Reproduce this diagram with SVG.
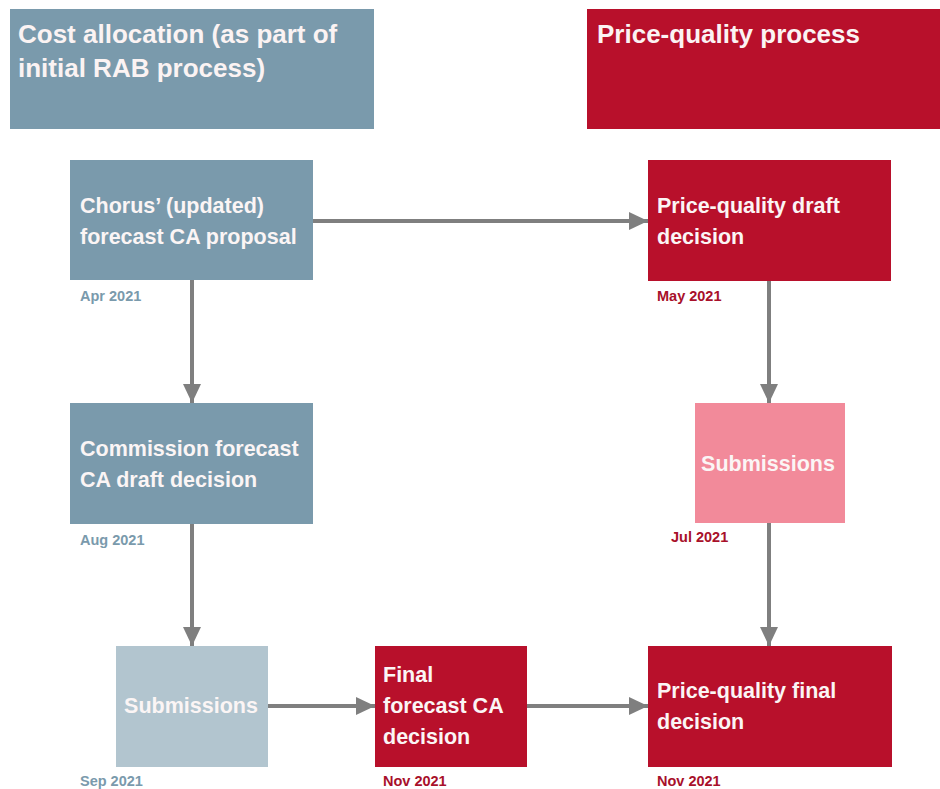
<svg xmlns="http://www.w3.org/2000/svg" width="940" height="789" viewBox="0 0 940 789">
  <defs>
    <marker id="arrow" markerUnits="userSpaceOnUse" markerWidth="20" markerHeight="20" refX="19" refY="9" orient="auto">
      <path d="M0,0 L19,9 L0,18 Z" fill="#7f7f7f"/>
    </marker>
    <style>
      .hdr { font-family: "Liberation Sans", Arial, sans-serif; font-weight: bold; font-size: 26px; fill: #fbf3f3; }
      .lbl { font-family: "Liberation Sans", Arial, sans-serif; font-weight: bold; font-size: 21.5px; fill: #fbf5f5; }
      .date { font-family: "Liberation Sans", Arial, sans-serif; font-weight: bold; font-size: 14.5px; }
      .d-blue { fill: #7a9aac; }
      .d-red { fill: #a8102a; }
      .blue { fill: #7a9aac; }
      .red { fill: #b8102b; }
      .pink { fill: #f28a9a; }
      .pale { fill: #b2c5cf; }
      .conn { stroke: #7f7f7f; stroke-width: 4; fill: none; marker-end: url(#arrow); }
    </style>
  </defs>

  <rect width="940" height="789" fill="#ffffff"/>

  <!-- column headers -->
  <g id="header-cost-allocation">
    <rect class="blue" x="10" y="9" width="364" height="120"/>
    <text class="hdr" x="18" y="43">Cost allocation (as part of</text>
    <text class="hdr" x="18" y="77">initial RAB process)</text>
  </g>
  <g id="header-price-quality">
    <rect class="red" x="587" y="9" width="353" height="120"/>
    <text class="hdr" x="597" y="43">Price-quality process</text>
  </g>

  <!-- connectors -->
  <g id="connectors">
    <line class="conn" x1="313" y1="221" x2="648" y2="221"/>
    <line class="conn" x1="192" y1="280" x2="192" y2="403"/>
    <line class="conn" x1="192" y1="524" x2="192" y2="646"/>
    <line class="conn" x1="268" y1="706" x2="375" y2="706"/>
    <line class="conn" x1="527" y1="706" x2="648" y2="706"/>
    <line class="conn" x1="769" y1="281" x2="769" y2="403"/>
    <line class="conn" x1="769" y1="523" x2="769" y2="646"/>
  </g>

  <!-- cost allocation nodes -->
  <g id="node-chorus-proposal">
    <rect class="blue" x="70" y="160" width="243" height="120"/>
    <text class="lbl" x="80" y="213">Chorus’ (updated)</text>
    <text class="lbl" x="80" y="244">forecast CA proposal</text>
    <text class="date d-blue" x="80" y="301">Apr 2021</text>
  </g>
  <g id="node-commission-draft">
    <rect class="blue" x="70" y="403" width="243" height="121"/>
    <text class="lbl" x="80" y="456">Commission forecast</text>
    <text class="lbl" x="80" y="487">CA draft decision</text>
    <text class="date d-blue" x="80" y="545">Aug 2021</text>
  </g>
  <g id="node-ca-submissions">
    <rect class="pale" x="116" y="646" width="152" height="121"/>
    <text class="lbl" x="191" y="713" text-anchor="middle">Submissions</text>
    <text class="date d-blue" x="80" y="786">Sep 2021</text>
  </g>
  <g id="node-final-ca">
    <rect class="red" x="375" y="646" width="152" height="121"/>
    <text class="lbl" x="383" y="682">Final</text>
    <text class="lbl" x="383" y="713">forecast CA</text>
    <text class="lbl" x="383" y="744">decision</text>
    <text class="date d-red" x="383" y="786">Nov 2021</text>
  </g>

  <!-- price-quality nodes -->
  <g id="node-pq-draft">
    <rect class="red" x="648" y="160" width="243" height="121"/>
    <text class="lbl" x="657" y="213">Price-quality draft</text>
    <text class="lbl" x="657" y="244">decision</text>
    <text class="date d-red" x="657" y="301">May 2021</text>
  </g>
  <g id="node-pq-submissions">
    <rect class="pink" x="695" y="403" width="150" height="120"/>
    <text class="lbl" x="768" y="471" text-anchor="middle">Submissions</text>
    <text class="date d-red" x="671" y="542">Jul 2021</text>
  </g>
  <g id="node-pq-final">
    <rect class="red" x="648" y="646" width="244" height="121"/>
    <text class="lbl" x="657" y="698">Price-quality final</text>
    <text class="lbl" x="657" y="729">decision</text>
    <text class="date d-red" x="657" y="786">Nov 2021</text>
  </g>
</svg>
